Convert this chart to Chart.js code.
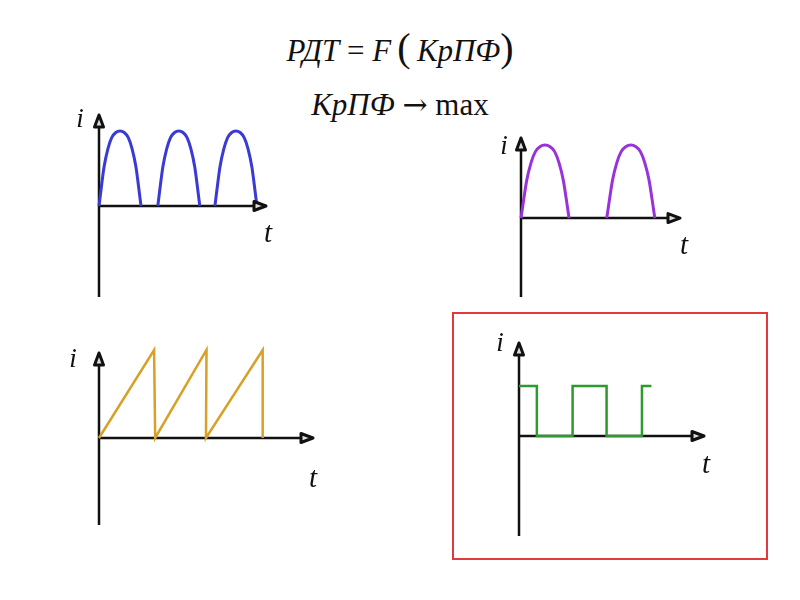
<!DOCTYPE html>
<html>
<head>
<meta charset="utf-8">
<script src="https://cdn.jsdelivr.net/npm/chart.js@4.4.1/dist/chart.umd.min.js"></script>
<style>
  body { margin: 0; background: #fff; }
  #page { position: relative; width: 800px; height: 600px; overflow: hidden; font-family: "Liberation Serif", "DejaVu Serif", serif; color: #111; }
  .formula { position: absolute; left: 0; width: 800px; text-align: center; font-size: 31px; line-height: 31px; white-space: nowrap; }
  .formula i { font-style: italic; }
  .paren { font-size: 40px; line-height: 0; font-weight: 300; }
  .arrow { font-family: "DejaVu Serif", serif; font-size: 30px; line-height: 0; }
  canvas { position: absolute; }
  #frame { position: absolute; left: 452px; top: 312px; width: 316px; height: 248px; box-sizing: border-box; border: 2px solid #e2393b; }
</style>
</head>
<body>
<div id="page">
  <div class="formula" id="f1" style="top:35px; padding-right:8px;"><i>РДТ</i> = <i>F</i>&#8201;<span class="paren">(</span>&#8201;<i>КрПФ</i><span class="paren">)</span></div>
  <div class="formula" id="f2" style="top:89px;"><i>КрПФ</i> <span class="arrow">→</span> max</div>
  <div id="frame"></div>
  <canvas id="c1"></canvas>
  <canvas id="c2"></canvas>
  <canvas id="c3"></canvas>
  <canvas id="c4"></canvas>
</div>
<script>
// half-wave rectified current, 3 humps
const blueT = [0, 0.06, 0.12, 0.21, 0.3, 0.4, 0.5, 0.6, 0.7, 0.79, 0.88, 0.94, 1.0, 1.2,
               1.4, 1.46, 1.52, 1.61, 1.7, 1.8, 1.9, 2.0, 2.1, 2.19, 2.28, 2.34, 2.4, 2.6,
               2.76, 2.82, 2.88, 2.97, 3.06, 3.16, 3.26, 3.36, 3.46, 3.55, 3.64, 3.7, 3.76];
const blueI = [0, 0.27, 0.52, 0.76, 0.91, 0.98, 1, 0.98, 0.91, 0.76, 0.52, 0.27, 0, null,
               0, 0.27, 0.52, 0.76, 0.91, 0.98, 1, 0.98, 0.91, 0.76, 0.52, 0.27, 0, null,
               0, 0.27, 0.52, 0.76, 0.91, 0.98, 1, 0.98, 0.91, 0.76, 0.52, 0.27, 0];

// two humps with a longer pause
const purpleT = [0, 0.06, 0.12, 0.21, 0.3, 0.4, 0.5, 0.6, 0.7, 0.79, 0.88, 0.94, 1.0, 1.4,
                 1.785, 1.845, 1.905, 1.995, 2.085, 2.185, 2.285, 2.385, 2.485, 2.575, 2.665, 2.725, 2.785];
const purpleI = [0, 0.27, 0.52, 0.76, 0.91, 0.98, 1, 0.98, 0.91, 0.76, 0.52, 0.27, 0, null,
                 0, 0.27, 0.52, 0.76, 0.91, 0.98, 1, 0.98, 0.91, 0.76, 0.52, 0.27, 0];

// sawtooth
const sawT = [0, 1.02, 1.04, 1.99, 1.98, 3.03, 3.03];
const sawI = [0, 1, 0, 1, 0, 1, 0];

// rectangular pulses
const squareT = [0, 0.51, 0.51, 1.53, 1.53, 2.5, 2.5, 3.51, 3.51, 3.78];
const squareI = [1, 1, 0, 0, 1, 1, 0, 0, 1, 1];

const PAD = 40;

const axisArrows = {
    id: 'axisArrows',
    beforeDatasetsDraw(chart) {
        const { ctx, scales: { x, y } } = chart;
        const x0 = x.getPixelForValue(0);
        const y0 = y.getPixelForValue(0);
        const xEnd = x.getPixelForValue(x.max);
        const yTop = y.getPixelForValue(y.max);
        const yBot = y.getPixelForValue(y.min);
        ctx.save();
        ctx.strokeStyle = '#111';
        ctx.lineWidth = 2.5;
        ctx.beginPath();
        ctx.moveTo(x0, yBot);
        ctx.lineTo(x0, yTop + 8);
        ctx.moveTo(x0, y0);
        ctx.lineTo(xEnd - 8, y0);
        ctx.stroke();
        ctx.restore();
    },
    afterDatasetsDraw(chart, args, opts) {
        const { ctx, scales: { x, y } } = chart;
        const x0 = x.getPixelForValue(0);
        const y0 = y.getPixelForValue(0);
        const xEnd = x.getPixelForValue(x.max);
        const yTop = y.getPixelForValue(y.max);
        ctx.save();
        ctx.strokeStyle = '#111';
        ctx.fillStyle = '#ddd';
        ctx.lineWidth = 3;
        ctx.lineJoin = 'round';
        // x arrow
        ctx.beginPath();
        ctx.moveTo(xEnd - 1, y0);
        ctx.lineTo(xEnd - 13, y0 - 4.5);
        ctx.lineTo(xEnd - 13, y0 + 4.5);
        ctx.closePath();
        ctx.fill();
        ctx.stroke();
        // y arrow
        ctx.beginPath();
        ctx.moveTo(x0, yTop + 1);
        ctx.lineTo(x0 - 4.5, yTop + 13);
        ctx.lineTo(x0 + 4.5, yTop + 13);
        ctx.closePath();
        ctx.fill();
        ctx.stroke();
        // axis letters
        ctx.fillStyle = '#111';
        ctx.textAlign = 'center';
        ctx.textBaseline = 'alphabetic';
        ctx.font = 'italic 27px "Liberation Serif"';
        ctx.fillText('i', x0 + opts.iLab[0], yTop + opts.iLab[1]);
        ctx.font = 'italic 29px "Liberation Serif"';
        ctx.fillText('t', xEnd + opts.tLab[0], y0 + opts.tLab[1]);
        ctx.restore();
    }
};

const panels = [
    { id: 'c1', t: blueT, i: blueI, color: '#3a3ad4', lw: 3, smooth: true,
      box: [99, 114, 168, 183], xMax: 4.0, yMin: -1.213, yMax: 1.227, iLab: [-19, 13], tLab: [1, 36] },
    { id: 'c2', t: purpleT, i: purpleI, color: '#9a32dc', lw: 3, smooth: true,
      box: [521, 137, 160, 160], xMax: 3.33, yMin: -1.08, yMax: 1.11, iLab: [-17, 17], tLab: [3, 36] },
    { id: 'c3', t: sawT, i: sawI, color: '#d6a126', lw: 2.5, smooth: false,
      box: [99, 352, 215, 173], xMax: 3.98, yMin: -0.989, yMax: 0.977, iLab: [-26, 15], tLab: [-1, 49] },
    { id: 'c4', t: squareT, i: squareI, color: '#2e9a2e', lw: 2.5, smooth: false,
      box: [519, 342, 186, 194], xMax: 5.31, yMin: -2.0, yMax: 1.88, iLab: [-19, 9], tLab: [1, 37] }
];

panels.forEach(p => {
    const canvas = document.getElementById(p.id);
    canvas.width = p.box[2] + 2 * PAD;
    canvas.height = p.box[3] + 2 * PAD;
    canvas.style.left = (p.box[0] - PAD) + 'px';
    canvas.style.top = (p.box[1] - PAD) + 'px';

    new Chart(canvas, {
        type: 'line',
        data: {
            datasets: [{
                data: p.t.map((v, k) => ({ x: v, y: p.i[k] })),
                borderColor: p.color,
                borderWidth: p.lw,
                fill: false,
                pointRadius: 0,
                spanGaps: false,
                clip: false,
                cubicInterpolationMode: p.smooth ? 'monotone' : 'default',
                tension: 0,
                borderJoinStyle: p.smooth ? 'round' : 'miter',
                borderCapStyle: 'butt'
            }]
        },
        options: {
            responsive: false,
            animation: false,
            events: [],
            layout: { padding: PAD },
            plugins: {
                legend: { display: false },
                tooltip: { enabled: false },
                axisArrows: { iLab: p.iLab, tLab: p.tLab }
            },
            scales: {
                x: { type: 'linear', display: false, min: 0, max: p.xMax },
                y: { type: 'linear', display: false, min: p.yMin, max: p.yMax }
            }
        },
        plugins: [axisArrows]
    });
});
</script>
</body>
</html>
